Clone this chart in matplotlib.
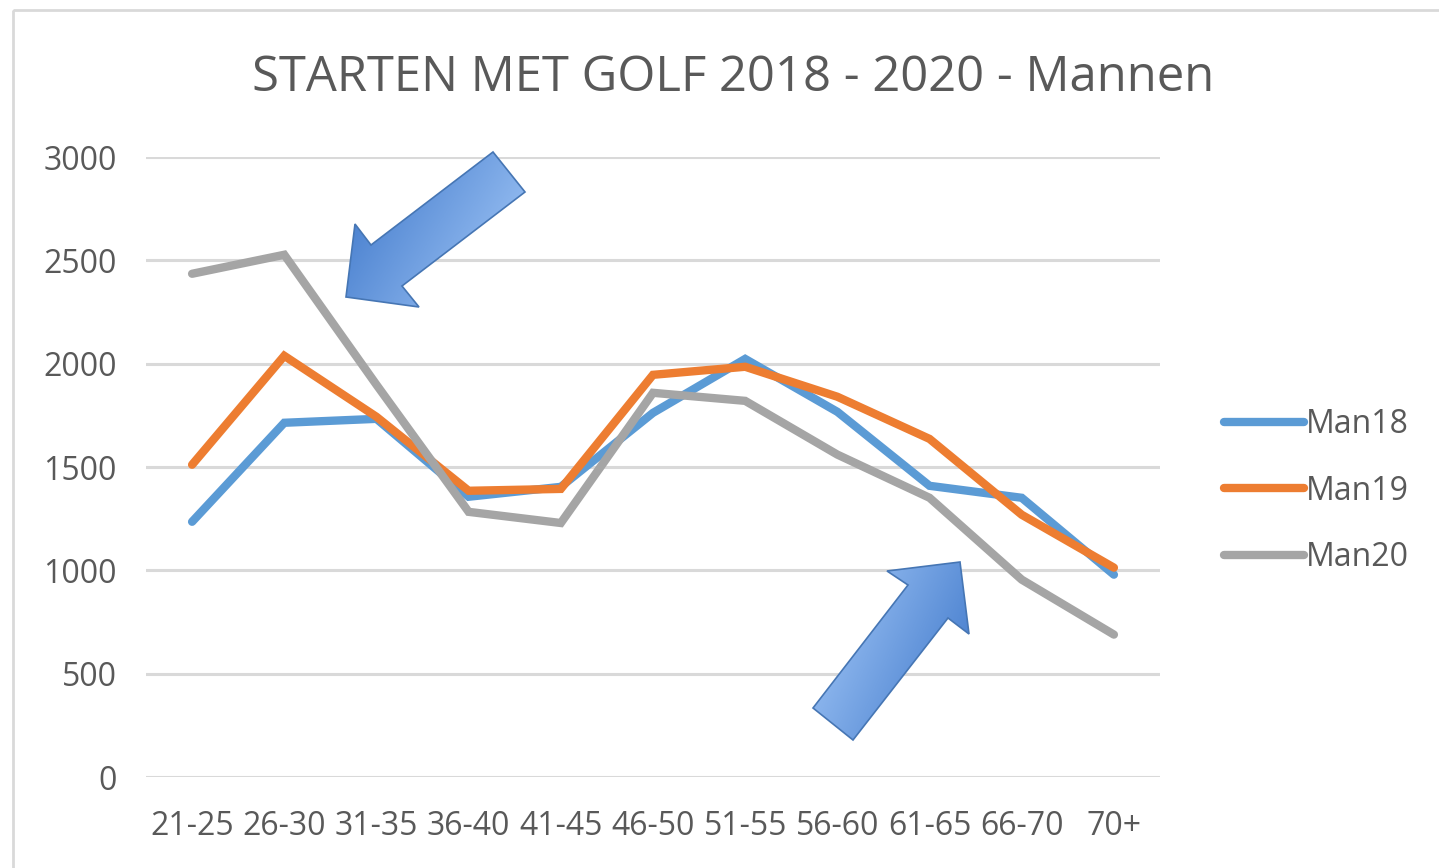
import matplotlib
matplotlib.use("Agg")
import matplotlib.pyplot as plt
import numpy as np
from matplotlib.colors import LinearSegmentedColormap
from matplotlib.patches import Polygon, Rectangle

plt.rcParams["font.family"] = ["Open Sans", "DejaVu Sans"]

categories = ["21-25", "26-30", "31-35", "36-40", "41-45", "46-50",
              "51-55", "56-60", "61-65", "66-70", "70+"]
man18 = [1235, 1714, 1733, 1356, 1404, 1762, 2023, 1767, 1409, 1351, 979]
man19 = [1511, 2038, 1743, 1385, 1394, 1946, 1985, 1840, 1636, 1269, 1013]
man20 = [2435, 2527, 1898, 1283, 1229, 1859, 1820, 1560, 1351, 955, 689]
series = [("Man18", man18, "#5B9BD5"),
          ("Man19", man19, "#ED7D31"),
          ("Man20", man20, "#A5A5A5")]
yticks = [0, 500, 1000, 1500, 2000, 2500, 3000]

W, H = 1439, 868
text_col = "#595959"

fig = plt.figure(figsize=(W / 100, H / 100), dpi=100)
ax = fig.add_axes([146 / W, 1 - 777 / H, (1160 - 146) / W, (777 - 157) / H])

x = np.arange(len(categories))
for name, vals, col in series:
    ax.plot(x, vals, color=col, lw=6, solid_capstyle="round",
            solid_joinstyle="miter", label=name, zorder=3)

ax.set_xlim(-0.5, len(categories) - 0.5)
ax.set_ylim(0, 3000)
ax.set_yticks(yticks)
ax.set_xticks(x)
ax.set_xticklabels(categories)
ax.grid(axis="y", color="#d9d9d9", lw=2.2, zorder=0)
for s in ax.spines.values():
    s.set_visible(False)
ax.tick_params(length=0, labelsize=23, labelcolor=text_col)
ax.tick_params(axis="y", pad=21)
ax.tick_params(axis="x", pad=24)

leg = fig.legend(loc="center left", bbox_to_anchor=(1195 / W, 1 - 491 / H),
                 frameon=False, fontsize=23, handlelength=2.5,
                 handletextpad=0.06, labelspacing=1.05)
for t in leg.get_texts():
    t.set_color(text_col)

fig.text(733 / W, 1 - 78 / H, "STARTEN MET GOLF 2018 - 2020 - Mannen",
         ha="center", va="center", fontsize=35.3, color=text_col)

# overlay in pixel coordinates for the frame and the two arrow shapes
ov = fig.add_axes([0, 0, 1, 1], zorder=5)
ov.set_xlim(0, W)
ov.set_ylim(H, 0)
ov.axis("off")
ov.patch.set_alpha(0)
ov.add_patch(Rectangle((13, 10), W, H, fill=False, ec="#d9d9d9", lw=2))

grad = LinearSegmentedColormap.from_list("g", ["#a8ccfa", "#3a74c8"])


def gradient_arrow(pts, direction):
    pts = np.array(pts, float)
    x0, y0 = pts.min(axis=0)
    x1, y1 = pts.max(axis=0)
    gx, gy = np.meshgrid(np.linspace(x0, x1, 200), np.linspace(y0, y1, 200))
    d = np.array(direction, float)
    d /= np.linalg.norm(d)
    t = gx * d[0] + gy * d[1]
    t = (t - t.min()) / (t.max() - t.min())
    poly = Polygon(pts, closed=True, fc="none", ec="#4676b4", lw=1.2, zorder=3)
    ov.add_patch(poly)
    im = ov.imshow(t, cmap=grad, extent=(x0, x1, y1, y0), origin="upper",
                   aspect="auto", zorder=2)
    im.set_clip_path(poly)
    ov.set_xlim(0, W)
    ov.set_ylim(H, 0)


gradient_arrow([(493, 152), (525, 192), (402, 286), (419, 307),
                (346, 297), (355, 224), (371, 245)], (-1, -0.6))
gradient_arrow([(813, 708), (853, 740), (948, 618), (969, 634),
                (960, 562), (887, 571), (908, 585)], (1, 0.45))

fig.savefig("out.png", dpi=100)
